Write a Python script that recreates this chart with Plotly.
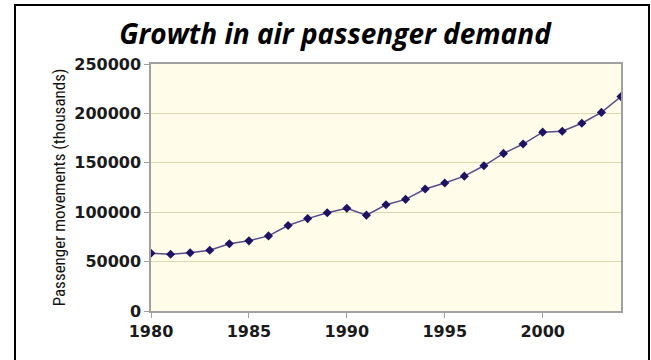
import plotly.graph_objects as go

# Annual air passenger movements (thousands)
years = list(range(1980, 2005))
passengers = [
    58500, 57500, 59000, 61500, 68000, 71000, 76000, 86500, 93500, 99500,
    104000, 97000, 107500, 113000, 123500, 129500, 136500, 147000, 159500, 169000,
    181000, 182000, 190000, 201000, 217000,
]
y_ticks = [0, 50000, 100000, 150000, 200000, 250000]
x_ticks = [1980, 1985, 1990, 1995, 2000]

W, H = 651, 360
L, R, T, B = 151, 30, 64, 49
pw, ph = W - L - R, H - T - B

fig = go.Figure()
fig.add_trace(go.Scatter(
    x=years, y=passengers, mode="lines+markers",
    line=dict(color="#5a4a8c", width=1.5),
    marker=dict(symbol="diamond", size=7, color="#1e1262"),
    showlegend=False, hoverinfo="x+y",
))

tick_font = dict(family="DejaVu Sans", size=16, color="#1a1a1a", weight="bold")

fig.update_layout(
    width=W, height=H,
    margin=dict(l=L, r=R, t=T, b=B),
    paper_bgcolor="white",
    plot_bgcolor="#fffdea",
    title=dict(
        text="<b><i>Growth in air passenger demand</i></b>",
        font=dict(family="Open Sans", size=28, color="black"),
        x=335 / W, xanchor="center", y=1 - 34 / H, yanchor="middle",
    ),
    xaxis=dict(
        range=[1980, 2004], tickvals=x_ticks, ticktext=[str(v) for v in x_ticks],
        showgrid=False, zeroline=False,
        showline=True, linecolor="#a0a0a0", linewidth=1.5, mirror=True,
        ticks="outside", ticklen=5, tickcolor="#a0a0a0",
        tickfont=tick_font,
    ),
    yaxis=dict(
        range=[0, 250000], tickvals=y_ticks, ticktext=[str(v) for v in y_ticks],
        showgrid=True, gridcolor="#d9d8ae", gridwidth=1, zeroline=False,
        showline=True, linecolor="#a0a0a0", linewidth=1.5, mirror=True,
        ticks="outside", ticklen=5, tickcolor="#a0a0a0",
        tickfont=tick_font,
        title=dict(text="Passenger movements (thousands)",
                   font=dict(family="Liberation Sans Narrow, Roboto Condensed, Liberation Sans", size=17, color="#111111"),
                   standoff=4),
    ),
)

# Outer black frame around the whole graphic (runs off the bottom edge)
fig.add_shape(
    type="rect", xref="paper", yref="paper",
    x0=(15 - L) / pw, x1=(649 - L) / pw,
    y0=-0.4, y1=(H - B - 5) / ph,
    line=dict(color="black", width=2), fillcolor="rgba(0,0,0,0)", layer="below",
)

fig.write_html("out.html")
